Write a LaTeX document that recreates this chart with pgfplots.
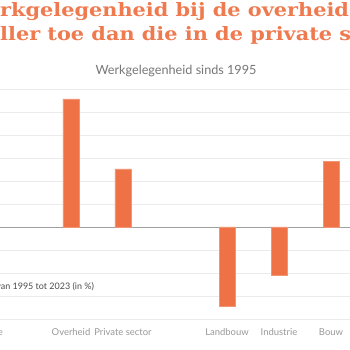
\documentclass[border=0pt]{standalone}
\usepackage{graphicx}
\usepackage{pgfplots}
\pgfplotsset{compat=1.18}
\usepackage{fontspec}
\setmainfont{Lato}
\newfontfamily\titlefont{DejaVu Serif}
\definecolor{barcol}{HTML}{EE7246}
\definecolor{titlecol}{HTML}{EF7A4F}
\definecolor{subcol}{HTML}{777777}
\definecolor{tickcol}{HTML}{999999}
\definecolor{gridcol}{HTML}{EBEBEB}
\definecolor{zerocol}{HTML}{A0A0A0}
\begin{document}
\begin{tikzpicture}[x=1bp,y=1bp]
\path[use as bounding box, clip] (0,0) rectangle (350,350);
\fill[white] (0,0) rectangle (350,350);
\begin{axis}[
  at={(0bp,31bp)}, anchor=south west,
  scale only axis, width=350bp, height=230bp,
  xmin=-0.365, xmax=6.365, ymin=-40, ymax=60,
  axis line style={draw=none},
  major tick length=0pt,
  ytick={-40,-30,...,60}, yticklabels={},
  ymajorgrids, grid style={draw=gridcol, line width=0.8pt},
  extra y ticks={0}, extra y tick labels={},
  extra y tick style={grid style={draw=zerocol, line width=0.8pt}},
  xtick={1,2,4,5,6},
  xticklabels={Overheid,Private sector,Landbouw,Industrie,Bouw},
  xticklabel style={anchor=base, yshift=-16bp, text=tickcol, font=\fontsize{9.5}{11}\selectfont},
  ybar, bar width=16bp,
  clip=false,
]
\addplot[fill=barcol, draw=barcol!75!white, line width=0.4pt] coordinates {
  (1,55.7) (2,25.3) (4,-34.3) (5,-20.9) (6,28.4)
};
\end{axis}
\node[anchor=base west, inner sep=0, text=titlecol, font=\titlefont\bfseries\fontsize{18.5}{20}\selectfont] at (0,334) {\scalebox{1.13}[1]{\llap{We}rkgelegenheid bij de overheid nam}};
\node[anchor=base west, inner sep=0, text=titlecol, font=\titlefont\bfseries\fontsize{18.5}{20}\selectfont] at (0,310) {\scalebox{1.13}[1]{\llap{nam sne}ller toe dan die in de private sector}};
\node[anchor=base, inner sep=0, text=subcol, font=\fontsize{12.7}{14}\selectfont] at (176,276) {Werkgelegenheid sinds 1995};
\node[anchor=base west, inner sep=0, text=black!70, font=\fontsize{9}{11}\selectfont] at (0.7,61) {\llap{Verandering v}an 1995 tot 2023 (in \%)};
\node[anchor=base east, inner sep=0, text=tickcol, font=\fontsize{9.5}{11}\selectfont] at (3,15) {Totale economie};
\end{tikzpicture}
\end{document}
